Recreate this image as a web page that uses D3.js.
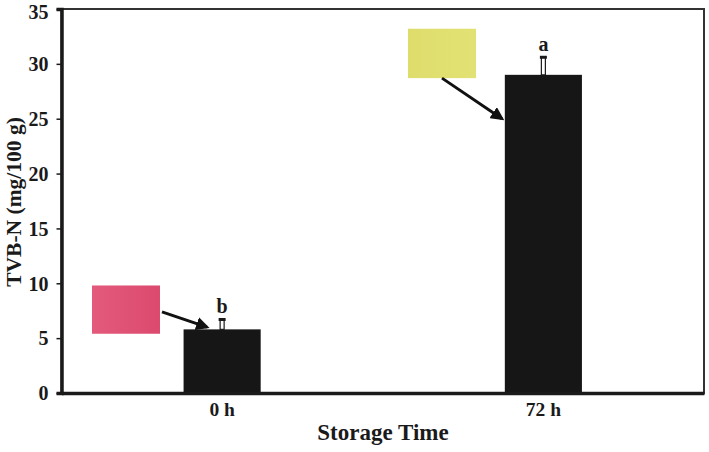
<!DOCTYPE html>
<html>
<head>
<meta charset="utf-8">
<script src="https://cdn.jsdelivr.net/npm/d3@7/dist/d3.min.js"></script>
<style>
	body { margin: 0; background: #fff; }
	text { font-family: "Liberation Serif", "Times New Roman", serif; font-weight: bold; fill: #1a1a1a; }
</style>
</head>
<body>
<div id="chart"></div>
<script>
const categories = ["0 h", "72 h"];
const means = [5.8, 29.0];
const errors = [0.9, 1.6];
const letters = ["b", "a"];
const yTicks = [0, 5, 10, 15, 20, 25, 30, 35];
// colour swatches beside each bar (value range they span)
const swatchColors = ["#df4f73", "#dfe06e"];
const swatchLow = [5.4, 28.7];
const swatchHigh = [9.8, 33.2];

const W = 709, H = 452;
const margin = {left: 61.5, right: 5, top: 9, bottom: 59};

const svg = d3.select("#chart").append("svg")
	.attr("width", W)
	.attr("height", H);

const x = d3.scaleBand()
	.domain(categories)
	.range([margin.left, W - margin.right])
	.paddingInner(0.76)
	.paddingOuter(0.38);

const y = d3.scaleLinear()
	.domain([0, 35])
	.range([H - margin.bottom, margin.top]);

const defs = svg.append("defs");
defs.append("marker")
	.attr("id", "arrow")
	.attr("viewBox", "0 0 10 10")
	.attr("refX", 8).attr("refY", 5)
	.attr("markerWidth", 4.5).attr("markerHeight", 4.5)
	.attr("orient", "auto")
	.append("path")
	.attr("d", "M0,0 L10,5 L0,10 z")
	.attr("fill", "#111");

const pinkGrad = defs.append("linearGradient").attr("id", "g0");
pinkGrad.append("stop").attr("offset", "0%").attr("stop-color", "#e35a7c");
pinkGrad.append("stop").attr("offset", "100%").attr("stop-color", "#dc4a6e");
const yelGrad = defs.append("linearGradient").attr("id", "g1");
yelGrad.append("stop").attr("offset", "0%").attr("stop-color", "#dedd6c");
yelGrad.append("stop").attr("offset", "100%").attr("stop-color", "#e2e274");

// frame (top & right)
svg.append("rect")
	.attr("x", margin.left)
	.attr("y", margin.top)
	.attr("width", W - margin.right - margin.left)
	.attr("height", y(0) - margin.top)
	.attr("fill", "none")
	.attr("stroke", "#333")
	.attr("stroke-width", 2);

// bars
svg.selectAll(".bar")
	.data(means)
	.join("rect")
	.attr("class", "bar")
	.attr("x", (d, i) => x(categories[i]))
	.attr("width", x.bandwidth())
	.attr("y", d => y(d))
	.attr("height", d => y(0) - y(d))
	.attr("fill", "#161616");

// error bars
const eb = svg.selectAll(".err")
	.data(means)
	.join("g")
	.attr("class", "err")
	.attr("transform", (d, i) => `translate(${x(categories[i]) + x.bandwidth() / 2},0)`);
eb.append("rect")
	.attr("x", -2)
	.attr("width", 4)
	.attr("y", (d, i) => y(d + errors[i]))
	.attr("height", (d, i) => y(d) - y(d + errors[i]))
	.attr("fill", "#fff")
	.attr("stroke", "#1a1a1a")
	.attr("stroke-width", 1.2);
eb.append("line")
	.attr("x1", -3.5).attr("x2", 3.5)
	.attr("y1", (d, i) => y(d + errors[i]))
	.attr("y2", (d, i) => y(d + errors[i]))
	.attr("stroke", "#1a1a1a")
	.attr("stroke-width", 3);
eb.append("text")
	.attr("text-anchor", "middle")
	.attr("y", (d, i) => y(d + errors[i]) - 6)
	.style("font-size", "20px")
	.text((d, i) => letters[i]);

// swatches + arrows
const swx = [92, 408];
svg.selectAll(".swatch")
	.data(swatchColors)
	.join("rect")
	.attr("class", "swatch")
	.attr("x", (d, i) => swx[i])
	.attr("width", 68)
	.attr("y", (d, i) => y(swatchHigh[i]))
	.attr("height", (d, i) => y(swatchLow[i]) - y(swatchHigh[i]))
	.attr("fill", (d, i) => `url(#g${i})`);

const arrows = [
	{x1: 162, v1: 7.4, x2: 207, v2: 6.0},
	{x1: 442, v1: 28.7, x2: 502, v2: 25.0}
];
svg.selectAll(".arrow")
	.data(arrows)
	.join("line")
	.attr("class", "arrow")
	.attr("x1", d => d.x1).attr("y1", d => y(d.v1))
	.attr("x2", d => d.x2).attr("y2", d => y(d.v2))
	.attr("stroke", "#111")
	.attr("stroke-width", 3)
	.attr("marker-end", "url(#arrow)");

// y axis
const yAxis = svg.append("g")
	.attr("transform", `translate(${margin.left},0)`)
	.call(d3.axisLeft(y).tickValues(yTicks).tickSize(5).tickPadding(8));
yAxis.select(".domain").attr("stroke", "#1a1a1a").attr("stroke-width", 3.5);
yAxis.selectAll(".tick line").attr("stroke", "#1a1a1a").attr("stroke-width", 1.5);
yAxis.selectAll("text")
	.attr("font-family", null)
	.style("font-size", "20px")
	.attr("dy", d => d === 35 ? "0.46em" : "0.34em");

// x axis
const xAxis = svg.append("g")
	.attr("transform", `translate(0,${y(0)})`)
	.call(d3.axisBottom(x).tickSize(0).tickPadding(9));
xAxis.select(".domain").attr("stroke", "#1a1a1a").attr("stroke-width", 3.5);
xAxis.selectAll("text")
	.attr("font-family", null)
	.style("font-size", "19.5px");

// axis titles
svg.append("text")
	.attr("x", 383)
	.attr("y", 440)
	.attr("text-anchor", "middle")
	.style("font-size", "23px")
	.text("Storage Time");

svg.append("text")
	.attr("transform", "translate(13,202) rotate(-90)")
	.attr("text-anchor", "middle")
	.attr("dy", "0.35em")
	.style("font-size", "21.5px")
	.text("TVB-N (mg/100 g)");
</script>
</body>
</html>
